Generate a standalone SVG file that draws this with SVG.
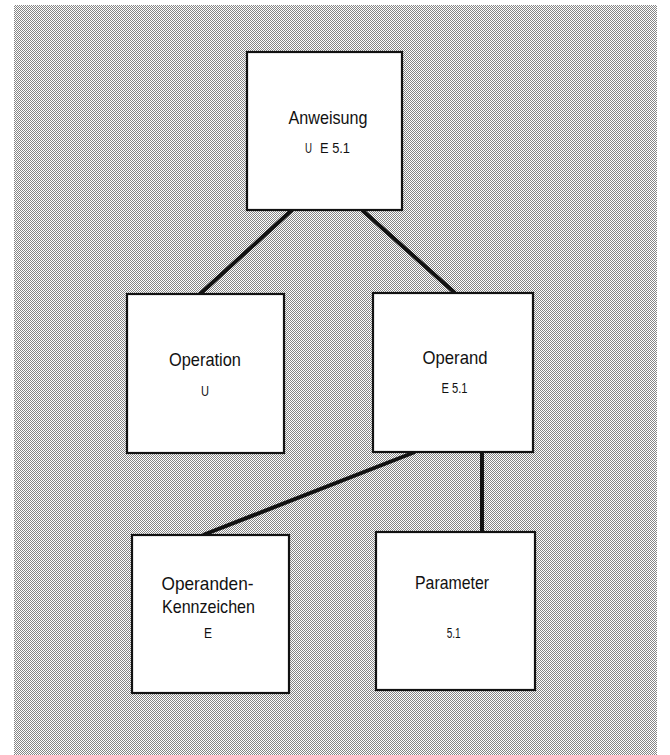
<svg xmlns="http://www.w3.org/2000/svg" width="670" height="755" viewBox="0 0 670 755">
  <defs>
    <pattern id="ht" patternUnits="userSpaceOnUse" width="2" height="2">
      <rect width="2" height="2" fill="#ffffff"/>
      <rect x="0" y="0" width="1" height="1" fill="#858585"/>
      <rect x="1" y="1" width="1" height="1" fill="#858585"/>
    </pattern>
  </defs>
  <style>
    .box { fill: #ffffff; stroke: #111111; stroke-width: 2.2; }
    .t1 { font-family: "Liberation Sans", Arial, sans-serif; font-size: 19px; fill: #111111; text-anchor: middle; }
    .t2 { font-family: "Liberation Sans", Arial, sans-serif; font-size: 15px; fill: #111111; text-anchor: middle; }
    .t2s { font-family: "Liberation Sans", Arial, sans-serif; font-size: 14px; fill: #111111; }
    .con { stroke: #111111; stroke-width: 4; fill: none; stroke-linecap: butt; }
  </style>
  <rect x="0" y="0" width="670" height="755" fill="#ffffff"/>
  <rect x="14" y="5" width="643" height="750" fill="url(#ht)"/>

  <g id="connectors">
    <line class="con" x1="292" y1="210" x2="200" y2="294"/>
    <line class="con" x1="362" y1="210" x2="455" y2="293"/>
    <line class="con" x1="415" y1="452" x2="203" y2="535"/>
    <line class="con" x1="482" y1="452" x2="482" y2="532"/>
  </g>

  <g id="anweisung">
    <rect class="box" x="247" y="52" width="155" height="158"/>
    <text class="t1" x="328" y="124" textLength="79" lengthAdjust="spacingAndGlyphs">Anweisung</text>
    <text class="t2s" y="153"><tspan x="305" textLength="7" lengthAdjust="spacingAndGlyphs">U</tspan> <tspan x="320" textLength="30" lengthAdjust="spacingAndGlyphs">E 5.1</tspan></text>
  </g>

  <g id="operation">
    <rect class="box" x="127" y="294" width="157" height="159"/>
    <text class="t1" x="205" y="366" textLength="72" lengthAdjust="spacingAndGlyphs">Operation</text>
    <text class="t2" x="205" y="396" textLength="8" lengthAdjust="spacingAndGlyphs">U</text>
  </g>

  <g id="operand">
    <rect class="box" x="373" y="293" width="160" height="159"/>
    <text class="t1" x="455" y="364" textLength="65" lengthAdjust="spacingAndGlyphs">Operand</text>
    <text class="t2" x="454.5" y="393" textLength="26" lengthAdjust="spacingAndGlyphs">E 5.1</text>
  </g>

  <g id="operanden-kennzeichen">
    <rect class="box" x="132" y="535" width="157" height="158"/>
    <text class="t1" x="207.5" y="590" textLength="92" lengthAdjust="spacingAndGlyphs">Operanden-</text>
    <text class="t1" x="208.5" y="613" textLength="93" lengthAdjust="spacingAndGlyphs">Kennzeichen</text>
    <text class="t2" x="208" y="638" textLength="8" lengthAdjust="spacingAndGlyphs">E</text>
  </g>

  <g id="parameter">
    <rect class="box" x="376" y="532" width="159" height="158"/>
    <text class="t1" x="452" y="589" textLength="74" lengthAdjust="spacingAndGlyphs">Parameter</text>
    <text class="t2" x="453.7" y="638" textLength="14" lengthAdjust="spacingAndGlyphs">5.1</text>
  </g>
</svg>
